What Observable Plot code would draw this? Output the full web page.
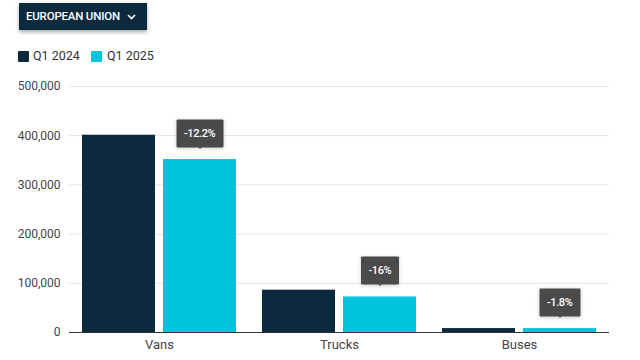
<!DOCTYPE html>
<html>
<head>
<meta charset="utf-8">
<script src="https://cdn.jsdelivr.net/npm/d3@7"></script>
<script src="https://cdn.jsdelivr.net/npm/@observablehq/plot@0.6"></script>
<style>
  body { margin: 0; background: #fff; font-family: Roboto, "Noto Sans", sans-serif; }
  #wrap { position: relative; width: 640px; height: 360px; overflow: hidden; }
  #header { position: relative; width: 640px; height: 70px; }
  #btn { position: absolute; left: 19px; top: 3px; width: 128px; height: 27px; background: #0c2a3e;
         box-shadow: 0 2px 4px rgba(0,0,0,0.35); color: #fff; font-size: 11.5px; font-weight: 500;
         line-height: 27px; box-sizing: border-box; padding-left: 7px; letter-spacing: -0.2px; }
  #btnlabel { position: absolute; left: 7px; top: 0; }
  #chev { position: absolute; left: 108px; top: 11px; }
  .leg { position: absolute; top: 49px; font-size: 12.5px; color: #333; line-height: 14px; }
  .sw { position: absolute; top: 51px; width: 11px; height: 11px; border-radius: 1px; }
  svg g[aria-label="tip"] text, svg g[aria-label="tip"] tspan { fill: #fff !important; font-weight: 500; letter-spacing: -0.4px; }
  svg g[aria-label="fx-axis tick label"] text { font-size: 13px; }
</style>
</head>
<body>
<div id="wrap">
  <div id="header">
    <div id="btn"><span id="btnlabel">EUROPEAN UNION</span><svg id="chev" width="9" height="6" viewBox="0 0 9 6"><polyline points="1,1 4.5,4.5 8,1" fill="none" stroke="#fff" stroke-width="1.6"/></svg></div>
    <div class="sw" style="left:18px;background:#0c2a3e"></div>
    <div class="leg" style="left:33px">Q1 2024</div>
    <div class="sw" style="left:91px;background:#00c3dc"></div>
    <div class="leg" style="left:107px">Q1 2025</div>
  </div>
  <div id="chart"></div>
</div>
<script>
const categories = ["Vans", "Trucks", "Buses"];
const series = ["Q1 2024", "Q1 2025"];
const q1_2024 = [401000, 86000, 8000];
const q1_2025 = [351500, 72300, 7850];
const changes = ["-12.2%", "-16%", "-1.8%"];
const yTicks = [0, 100000, 200000, 300000, 400000, 500000];
const colors = ["#0c2a3e", "#00c3dc"];

const data = [];
categories.forEach((c, i) => {
  data.push({category: c, series: series[0], value: q1_2024[i], change: changes[i]});
  data.push({category: c, series: series[1], value: q1_2025[i], change: changes[i]});
});
const tips = data.filter(d => d.series === series[1]);

const chart = Plot.plot({
  width: 640,
  height: 290,
  marginLeft: 69,
  marginRight: 31,
  marginTop: 16,
  marginBottom: 28,
  style: {fontFamily: "Roboto, sans-serif", fontSize: "12px", color: "#444"},
  fx: {domain: categories, padding: 0, label: null, axis: "bottom", tickSize: 0, tickPadding: 7},
  x: {domain: series, paddingInner: 0.1, paddingOuter: 0.16, axis: null},
  y: {domain: [0, 500000], ticks: yTicks, tickFormat: d3.format(","), label: null, tickSize: 0, tickPadding: 9},
  color: {domain: series, range: colors},
  marks: [
    Plot.gridY(yTicks, {stroke: "#e4e4e4", strokeOpacity: 1}),
    Plot.barY(data, {fx: "category", x: "series", y: "value", fill: "series"}),
    Plot.ruleY([0], {stroke: "#333", strokeWidth: 1}),
    Plot.tip(tips, {fx: "category", x: "series", y: "value", title: "change", anchor: "bottom",
      dy: -11, fill: "#4a4a4a", stroke: "#4a4a4a", pointerSize: 3, textPadding: 7, fontSize: 11,
      pathFilter: "drop-shadow(0 1px 2px rgba(0,0,0,0.2))"})
  ]
});
document.getElementById("chart").appendChild(chart);
</script>
</body>
</html>
